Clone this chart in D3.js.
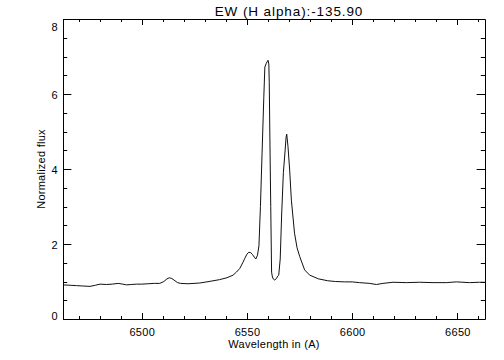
<!DOCTYPE html>
<html>
<head>
<meta charset="utf-8">
<script src="https://cdn.jsdelivr.net/npm/d3@7"></script>
<style>
  body { margin: 0; background: #fff; }
  svg { display: block; font-family: "Liberation Sans", Arial, sans-serif; }
  .axis path, .axis line { display: none; }
  .axis text { font-size: 11px; fill: #000; letter-spacing: 0.3px; }
  .label { font-size: 11px; fill: #000; }
</style>
</head>
<body>
<svg id="chart" width="504" height="360"></svg>
<script>
// spectrum (Angstrom, normalized flux)
const wavelength = [
    6462.6, 6466, 6469, 6472, 6475.4, 6478, 6480.2, 6483.3, 6486, 6488.8,
    6491, 6492.8, 6495, 6497.6, 6500, 6503.1, 6506, 6508.6, 6510.5, 6512,
    6513.1, 6514.3, 6515.8, 6517, 6518.5, 6522, 6527.6, 6532, 6537, 6540.5,
    6543.4, 6545, 6546.6, 6548, 6549, 6550, 6550.9, 6551.8, 6552.6, 6553.5,
    6554.2, 6555, 6555.7, 6556.4, 6557.2, 6558.0, 6558.5, 6559.2, 6560.0, 6560.4,
    6560.6, 6560.9, 6561.3, 6561.7, 6562.1, 6562.6, 6563.2, 6564.0, 6564.7, 6565.1,
    6565.8, 6566.5, 6567.3, 6568.0, 6568.6, 6568.9, 6569.5, 6570.3, 6571.1, 6572.6,
    6573.8, 6575.1, 6577.4, 6579.8, 6584, 6588.4, 6592, 6596.4, 6600, 6603.4,
    6608.3, 6611.5, 6614.6, 6619.4, 6625.7, 6632.0, 6638.4, 6644.7, 6649.5, 6655.8,
    6660.5, 6663
];
const flux = [
    0.91, 0.90, 0.89, 0.88, 0.87, 0.90, 0.93, 0.92, 0.93, 0.95,
    0.93, 0.91, 0.92, 0.93, 0.93, 0.94, 0.95, 0.95, 1.00, 1.07,
    1.10, 1.08, 1.02, 0.97, 0.95, 0.94, 0.96, 1.00, 1.05, 1.10,
    1.17, 1.25, 1.35, 1.50, 1.62, 1.73, 1.78, 1.77, 1.72, 1.65,
    1.60, 1.70, 1.95, 3.00, 4.45, 5.90, 6.72, 6.82, 6.90, 6.80,
    6.30, 4.80, 3.00, 1.25, 1.12, 1.06, 1.04, 1.08, 1.15, 1.17,
    1.60, 2.80, 3.90, 4.40, 4.85, 4.93, 4.60, 3.97, 3.17, 2.29,
    1.90, 1.66, 1.31, 1.17, 1.07, 1.02, 1.00, 0.99, 0.99, 0.97,
    0.95, 0.92, 0.95, 0.98, 0.97, 0.98, 0.97, 0.97, 0.99, 0.97,
    0.98, 0.98
];

const xTicks = [6500, 6550, 6600, 6650];
const yTicks = [0, 2, 4, 6, 8];
const titleText = "EW (H alpha):-135.90";
const xTitle = "Wavelength in (A)";
const yTitle = "Normalized flux";

const svg = d3.select("#chart");
const plotLeft = 63, plotRight = 485, plotTop = 19, plotBottom = 319;

const x = d3.scaleLinear().domain([6462.6, 6663.1]).range([plotLeft, plotRight]);
const y = d3.scaleLinear().domain([0, 8]).range([plotBottom, plotTop]);

// minor tick positions
const xMinor = d3.range(6470, 6661, 10).filter(v => v % 50 !== 0);
const yMinor = d3.range(0.5, 8, 0.5).filter(v => v % 2 !== 0);

const majX = 6, minX = 3, majY = 8.4, minY = 4.2;

// frame + inward tick marks on all four sides, one path
const px = v => Math.round(x(v)) + 0.5;
const py = v => Math.round(y(v)) + 0.5;
let d = `M${plotLeft + 0.5},${plotTop + 0.5}H${plotRight + 0.5}V${plotBottom + 0.5}H${plotLeft + 0.5}Z`;
xTicks.forEach(v => { d += `M${px(v)},${plotBottom}v${-majX}M${px(v)},${plotTop}v${majX}`; });
xMinor.forEach(v => { d += `M${px(v)},${plotBottom}v${-minX}M${px(v)},${plotTop}v${minX}`; });
yTicks.forEach(v => { d += `M${plotLeft},${py(v)}h${majY}M${plotRight},${py(v)}h${-majY}`; });
yMinor.forEach(v => { d += `M${plotLeft},${py(v)}h${minY}M${plotRight},${py(v)}h${-minY}`; });
svg.append("path")
    .attr("d", d)
    .attr("fill", "none")
    .attr("stroke", "#000")
    .attr("stroke-width", 1);

// tick labels through d3 axes (lines hidden)
svg.append("g").attr("class", "axis")
    .attr("transform", `translate(0,${plotBottom})`)
    .call(d3.axisBottom(x).tickValues(xTicks).tickSize(0).tickPadding(9).tickFormat(d3.format("d")));

const yAxis = svg.append("g").attr("class", "axis")
    .attr("transform", `translate(${plotLeft},0)`)
    .call(d3.axisLeft(y).tickValues(yTicks).tickSize(0).tickPadding(5).tickFormat(d3.format("d")));
// first and last labels are nudged inside the frame
yAxis.selectAll(".tick text")
    .attr("dy", v => v === 0 ? "0.05em" : v === 8 ? "1.0em" : "0.4em");

// spectrum
const line = d3.line().x((f, i) => x(wavelength[i])).y(f => y(f));
svg.append("path")
    .datum(flux)
    .attr("fill", "none")
    .attr("stroke", "#111")
    .attr("stroke-width", 1)
    .attr("d", line);

// titles
svg.append("text").attr("class", "label")
    .attr("x", 289).attr("y", 16)
    .attr("text-anchor", "middle")
    .style("font-size", "13.5px").style("letter-spacing", "0.9px")
    .text(titleText);

svg.append("text").attr("class", "label")
    .attr("x", (plotLeft + plotRight) / 2).attr("y", 348)
    .attr("text-anchor", "middle")
    .style("letter-spacing", "0.25px")
    .text(xTitle);

svg.append("text").attr("class", "label")
    .attr("transform", `translate(45,${(plotTop + plotBottom) / 2}) rotate(-90)`)
    .attr("text-anchor", "middle")
    .style("letter-spacing", "0.25px")
    .text(yTitle);
</script>
</body>
</html>
